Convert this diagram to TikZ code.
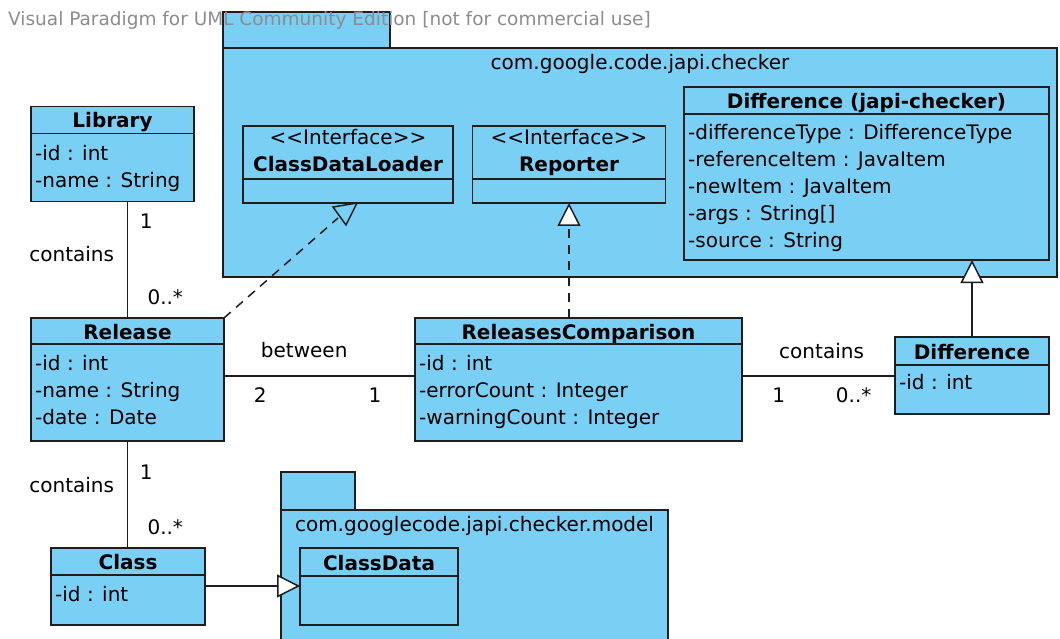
\documentclass[tikz,border=0pt]{standalone}
\usepackage{fontspec}
\setmainfont{DejaVu Sans}
\usetikzlibrary{positioning}
\usetikzlibrary{arrows.meta}
\definecolor{umlblue}{RGB}{122,207,245}
\definecolor{umlline}{RGB}{30,30,30}
\definecolor{wmgray}{RGB}{140,140,140}

\begin{document}
\begin{tikzpicture}[x=1pt, y=-1pt,
  font=\fontsize{20}{27}\selectfont,
  box/.style={draw=umlline, fill=umlblue, line width=1.5pt, inner sep=0pt, outer sep=0pt},
  head/.style={box, font=\fontsize{20}{27}\selectfont\bfseries, text height=16pt, text depth=0pt},
  attr/.style={anchor=north west, align=left, inner xsep=4pt, inner ysep=11pt},
  lbl/.style={inner sep=0pt},
  link/.style={draw=umlline, line width=1.5pt},
  realize/.style={link, dash pattern=on 9pt off 7pt},
  hollow/.style={-{Triangle[length=23pt, width=23pt, fill=white]}}]
\useasboundingbox (0,0) rectangle (1060,639);
\clip (0,0) rectangle (1060,639);

% package com.google.code.japi.checker
\node[box, minimum width=167, minimum height=36] (pkgtab) at (306.5,30) {};
\node[box, minimum width=834, minimum height=229] (pkg) at (640,162.5) {};
\node[anchor=base] (pkgname) at (640,69.5) {com.google.code.japi.checker};

% package com.googlecode.japi.checker.model
\node[box, minimum width=74, minimum height=38] (mtab) at (318,491) {};
\node[box, minimum width=387, minimum height=160, anchor=north west] (mpkg) at (281,510) {};
\node[anchor=base] (mname) at (474.5,531.5) {com.googlecode.japi.checker.model};

% interfaces
\node[box, align=center, minimum width=210, minimum height=53, text depth=5pt] (loader) at (348,152.5) {<\kern0pt<Interface>\kern0pt>\\\textbf{ClassDataLoader}};
\node[box, minimum width=210, minimum height=24, below=0pt of loader] (loaderA) {};

\node[box, align=center, minimum width=193, minimum height=53, text depth=5pt] (rep) at (569,152.5) {<\kern0pt<Interface>\kern0pt>\\\textbf{Reporter}};
\node[box, minimum width=193, minimum height=24, below=0pt of rep] (repA) {};

% classes
\node[head, minimum width=365, minimum height=27] (jdiff) at (866.5,100.5) {Difference (japi-checker)};
\node[box, minimum width=365, minimum height=146, below=0pt of jdiff] (jdiffA) {};
\node[attr, inner ysep=10pt] (jdiffT) at (jdiffA.north west) {-differenceType : DifferenceType\\-referenceItem : JavaItem\\-newItem : JavaItem\\-args : String[]\\-source : String};

\node[head, minimum width=163, minimum height=27] (lib) at (112.5,120) {Library};
\node[box, minimum width=163, minimum height=68, below=0pt of lib] (libA) {};
\node[attr, inner ysep=12pt] (libT) at (libA.north west) {-id : int\\-name : String};

\node[head, minimum width=193, minimum height=26] (rel) at (127.5,331) {Release};
\node[box, minimum width=193, minimum height=97, below=0pt of rel] (relA) {};
\node[attr] (relT) at (relA.north west) {-id : int\\-name : String\\-date : Date};

\node[head, minimum width=327, minimum height=26] (cmp) at (578.5,331) {ReleasesComparison};
\node[box, minimum width=327, minimum height=97, below=0pt of cmp] (cmpA) {};
\node[attr] (cmpT) at (cmpA.north west) {-id : int\\-errorCount : Integer\\-warningCount : Integer};

\node[head, minimum width=154, minimum height=28] (diff) at (972,351) {Difference};
\node[box, minimum width=154, minimum height=49, below=0pt of diff] (diffA) {};
\node[attr, inner ysep=9pt] (diffT) at (diffA.north west) {-id : int};

\node[head, minimum width=154, minimum height=27] (cls) at (128,561.5) {Class};
\node[box, minimum width=154, minimum height=50, below=0pt of cls] (clsA) {};
\node[attr] (clsT) at (clsA.north west) {-id : int};

\node[head, minimum width=158, minimum height=28] (cdata) at (379,562) {ClassData};
\node[box, minimum width=158, minimum height=49, below=0pt of cdata] (cdataA) {};

% associations
\draw[link] (libA.south -| rel.north) --
  node[lbl, pos=0.17, anchor=west, xshift=11.6pt] (m1) {1}
  node[lbl, pos=0.45, anchor=east, xshift=-12.7pt] (c1) {contains}
  node[lbl, pos=0.82, anchor=west, xshift=19.3pt] (m2) {0..*} (rel.north);
\draw[link] (relA.south) --
  node[lbl, pos=0.29, anchor=west, xshift=11.6pt] (m3) {1}
  node[lbl, pos=0.41, anchor=east, xshift=-12.7pt] (c2) {contains}
  node[lbl, pos=0.81, anchor=west, xshift=19.3pt] (m4) {0..*} (relA.south |- cls.north);
\draw[link] ([yshift=16.5pt]relA.east) --
  node[lbl, pos=0.42, anchor=south, yshift=17pt] (b1) {between}
  node[lbl, pos=0.19, anchor=north, yshift=-10.7pt] (m5) {2}
  node[lbl, pos=0.79, anchor=north, yshift=-10.7pt] (m6) {1} ([yshift=16.5pt]relA.east -| cmpA.west);
\draw[link] ([yshift=16.5pt]cmpA.east) --
  node[lbl, pos=0.52, anchor=south, yshift=16pt] (c3) {contains}
  node[lbl, pos=0.24, anchor=north, yshift=-10.7pt] (m7) {1}
  node[lbl, pos=0.73, anchor=north, yshift=-10.7pt] (m8) {0..*} ([yshift=16.5pt]cmpA.east -| diffA.west);

% realizations and generalizations
\coordinate (loaderEnd) at ([shift={(-10,15)}]loaderA.south);
\draw[realize] (rel.north east) -- (loaderEnd);
\draw[link] ([shift={(-15,4)}]loaderA.south) -- ([shift={(9,0)}]loaderA.south) -- ([shift={(-2,22)}]loaderA.south) -- cycle;
\draw[realize, hollow] (cmp.north -| repA.south) -- (repA.south);
\draw[link, hollow] (diff.north) -- (diff.north |- jdiffA.south);
\draw[link, hollow] ([yshift=14pt]clsA.east) -- ([yshift=14pt]clsA.east -| cdataA.west);

\node[anchor=base west, text=wmgray, font=\fontsize{18.5}{22}\selectfont, inner sep=0pt] (wm) at (8,26) {Visual Paradigm for UML Community Edition [not for commercial use]};
\end{tikzpicture}
\end{document}
